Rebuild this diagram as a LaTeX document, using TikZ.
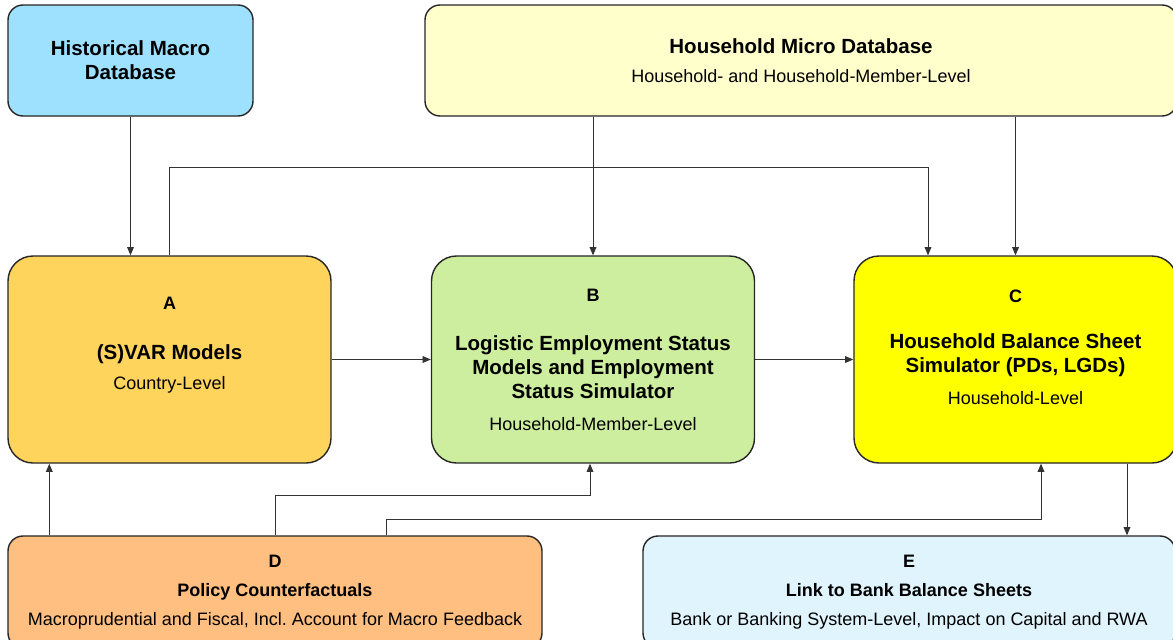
\documentclass[tikz,border=0pt]{standalone}
\usepackage{fontspec}
\setmainfont{Liberation Sans}
\usetikzlibrary{positioning,calc,arrows}
\definecolor{histblue}{HTML}{9EE1FF}
\definecolor{microyellow}{HTML}{FFFFCC}
\definecolor{svargold}{HTML}{FFD45C}
\definecolor{empgreen}{HTML}{CCEE9E}
\definecolor{hbsyellow}{HTML}{FFFF00}
\definecolor{polorange}{HTML}{FFBF80}
\definecolor{bankblue}{HTML}{E0F4FD}
\newcommand{\boxlbl}{\fontsize{18}{24}\selectfont\bfseries}
\newcommand{\boxttl}{\fontsize{20.5}{24}\selectfont\bfseries}
\begin{document}
\begin{tikzpicture}[x=1pt,y=-1pt,
        >=triangle 45,
        box/.style = {draw=black!85,line width=1.4pt,align=center,font=\fontsize{18}{24}\selectfont},
        db/.style = {box,rounded corners=15pt,minimum height=111pt},
        model/.style = {box,rounded corners=25pt,minimum width=323pt,minimum height=207pt},
        resultbox/.style = {box,rounded corners=15pt,minimum height=112pt},
        link/.style = {draw=black!80,line width=0.9pt}
        ]
        \useasboundingbox (0,0) rectangle (1173,640);
        \clip (0,0) rectangle (1173,640);

        %Datenbanken
        \node[db,fill=histblue,minimum width=245pt] (hist) at (130.5,60.5)
            {{\boxttl Historical Macro}\\{\boxttl Database}};
        \node[db,fill=microyellow,minimum width=752pt] (micro) at (801,60.5)
            {{\boxttl Household Micro Database}\\[5.5pt]Household- and Household-Member-Level};

        %Modelle
        \node[model,fill=svargold] (svar) at (169.5,359.5)
            {{\boxlbl A}\\[26.5pt]{\boxttl (S)VAR Models}\\[5.5pt]Country-Level\\[8.8pt]\mbox{}};
        \node[model,fill=empgreen] (emp) at (593,359.5)
            {{\boxlbl B}\\[25.5pt]{\boxttl Logistic Employment Status}\\{\boxttl Models and Employment}\\{\boxttl Status Simulator}\\[7.5pt]Household-Member-Level};
        \node[model,fill=hbsyellow] (hbs) at (1015.5,359.5)
            {{\boxlbl C}\\[22.5pt]{\boxttl Household Balance Sheet}\\{\boxttl Simulator (PDs, LGDs)}\\[7.5pt]Household-Level\\[1pt]\mbox{}};

        %Politik und Banken
        \node[resultbox,fill=polorange,minimum width=534pt] (pol) at (275,592)
            {{\boxlbl D}\\[5pt]{\boxlbl Policy Counterfactuals}\\[5pt]Macroprudential and Fiscal, Incl.\ Account for Macro Feedback};
        \node[resultbox,fill=bankblue,minimum width=532pt] (bank) at (909,592)
            {{\boxlbl E}\\[5pt]{\boxlbl Link to Bank Balance Sheets}\\[5pt]Bank or Banking System-Level, Impact on Capital and RWA};

        %Verbindungen
        \draw[link,->] (hist.south) -- (hist.south |- svar.north);
        \draw[link,->] (micro.south -| emp.north) -- (emp.north);
        \draw[link,->] (micro.south -| hbs.north) -- (hbs.north);
        \draw[link,->] (svar.east) -- (emp.west);
        \draw[link,->] (emp.east) -- (hbs.west);
        \draw[link,->] (svar.north) -- ++(0,-88) -| ($(hbs.north)+(-87.5,0)$);
        \coordinate (d1) at ($(pol.north west)+(42,0)$);
        \draw[link,->] (d1) -- (d1 |- svar.south);
        \draw[link,->] (pol.north) -- ++(0,-40) -| ($(emp.south)+(-3,0)$);
        \draw[link,->] ($(pol.north)+(111,0)$) -- ++(0,-16) -| ($(hbs.south)+(25.5,0)$);
        \coordinate (c1) at ($(hbs.south)+(111.5,0)$);
        \draw[link,->] (c1) -- (c1 |- bank.north);

    \end{tikzpicture}
\end{document}
